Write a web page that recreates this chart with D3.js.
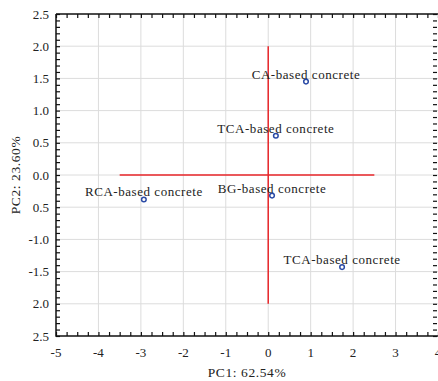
<!DOCTYPE html>
<html>
<head>
<meta charset="utf-8">
<script src="https://cdn.jsdelivr.net/npm/d3@7"></script>
<style>
  body { margin: 0; background: #fff; }
  svg { display: block; }
  text { font-family: "Liberation Serif", "Times New Roman", serif; fill: #222; }
</style>
</head>
<body>
<svg id="chart" width="438" height="381"></svg>
<script>
// sample scores (PC1, PC2)
const names = ["CA-based concrete", "TCA-based concrete", "BG-based concrete", "RCA-based concrete", "TCA-based concrete"];
const pc1 = [0.89, 0.18, 0.09, -2.93, 1.74];
const pc2 = [1.45, 0.61, -0.32, -0.38, -1.43];

const xTicks = [-5, -4, -3, -2, -1, 0, 1, 2, 3, 4];
const xTickLabels = ["-5", "-4", "-3", "-2", "-1", "0", "1", "2", "3", "4"];
const yTicks = [2.5, 2.0, 1.5, 1.0, 0.5, 0.0, -0.5, -1.0, -1.5, -2.0, -2.5];
const yTickLabels = ["2.5", "2.0", "1.5", "1.0", "0.5", "0.0", "0.5", "-1.0", "-1.5", "2.0", "2.5"];

// red cross lines through origin
const hLine = [-3.5, 2.5];
const vLine = [-2.0, 2.0];

const svg = d3.select("#chart");
const pLeft = 56, pRight = 438, pTop = 14, pBottom = 336;

const x = d3.scaleLinear().domain([-5, 4]).range([pLeft, pRight]);
const y = d3.scaleLinear().domain([-2.5, 2.5]).range([pBottom, pTop]);

// grid
svg.append("g").selectAll("line")
    .data(xTicks.slice(1, -1))
    .join("line")
    .attr("x1", d => x(d)).attr("x2", d => x(d))
    .attr("y1", pTop).attr("y2", pBottom)
    .attr("stroke", "#dcdcdc").attr("stroke-width", 1);

svg.append("g").selectAll("line")
    .data(yTicks.slice(1, -1))
    .join("line")
    .attr("x1", pLeft).attr("x2", pRight)
    .attr("y1", d => y(d)).attr("y2", d => y(d))
    .attr("stroke", "#dcdcdc").attr("stroke-width", 1);

// red reference lines
svg.append("line")
    .attr("x1", x(hLine[0])).attr("x2", x(hLine[1]))
    .attr("y1", y(0)).attr("y2", y(0))
    .attr("stroke", "#e8262a").attr("stroke-width", 1.5);
svg.append("line")
    .attr("x1", x(0)).attr("x2", x(0))
    .attr("y1", y(vLine[0])).attr("y2", y(vLine[1]))
    .attr("stroke", "#e8262a").attr("stroke-width", 1.5);

// minor ticks (inside)
const xMinor = d3.range(-5, 4.001, 0.25);
const yMinor = d3.range(-2.5, 2.501, 0.1);

function styleAxis(g) {
    g.select(".domain").remove();
    g.selectAll(".tick line").attr("stroke", "#111").attr("stroke-width", 1.2);
}

svg.append("g").attr("transform", `translate(0,${pBottom})`)
    .call(d3.axisBottom(x).tickValues(xMinor).tickSize(-4).tickFormat(""))
    .call(styleAxis);
svg.append("g").attr("transform", `translate(0,${pTop})`)
    .call(d3.axisTop(x).tickValues(xMinor).tickSize(-4).tickFormat(""))
    .call(styleAxis);
svg.append("g").attr("transform", `translate(${pLeft},0)`)
    .call(d3.axisLeft(y).tickValues(yMinor).tickSize(-4).tickFormat(""))
    .call(styleAxis);
svg.append("g").attr("transform", `translate(${pRight - 1},0)`)
    .call(d3.axisRight(y).tickValues(yMinor).tickSize(-4).tickFormat(""))
    .call(styleAxis);

// frame
svg.append("path")
    .attr("d", `M${pLeft},${pTop}H${pRight}M${pLeft},${pTop}V${pBottom}H${pRight}`)
    .attr("fill", "none").attr("stroke", "#111").attr("stroke-width", 1.5);

// tick labels
svg.append("g").selectAll("text")
    .data(xTicks)
    .join("text")
    .attr("x", d => x(d))
    .attr("y", 357)
    .attr("text-anchor", "middle")
    .style("font-size", "13px")
    .text((d, i) => xTickLabels[i]);

svg.append("g").selectAll("text")
    .data(yTicks)
    .join("text")
    .attr("x", 49)
    .attr("y", d => y(d) + 4.5)
    .attr("text-anchor", "end")
    .style("font-size", "13px")
    .text((d, i) => yTickLabels[i]);

// axis titles
svg.append("text")
    .attr("x", (pLeft + pRight) / 2)
    .attr("y", 377)
    .attr("text-anchor", "middle")
    .style("font-size", "13.5px")
    .style("letter-spacing", "0.6px")
    .text("PC1: 62.54%");

svg.append("text")
    .attr("transform", `translate(20,${(pTop + pBottom) / 2}) rotate(-90)`)
    .attr("text-anchor", "middle")
    .style("font-size", "13.5px")
    .style("letter-spacing", "0.6px")
    .text("PC2: 23.60%");

// points + labels
const pts = names.map((n, i) => ({ name: n, px: pc1[i], py: pc2[i] }));

svg.append("g").selectAll("text")
    .data(pts)
    .join("text")
    .attr("x", d => x(d.px))
    .attr("y", d => y(d.py) - 3)
    .attr("text-anchor", "middle")
    .style("font-size", "13px")
    .style("letter-spacing", "0.55px")
    .text(d => d.name);

svg.append("g").selectAll("circle")
    .data(pts)
    .join("circle")
    .attr("cx", d => x(d.px))
    .attr("cy", d => y(d.py))
    .attr("r", 2.3)
    .attr("fill", "#fff")
    .attr("stroke", "#2b4ba6")
    .attr("stroke-width", 1.5);
</script>
</body>
</html>
